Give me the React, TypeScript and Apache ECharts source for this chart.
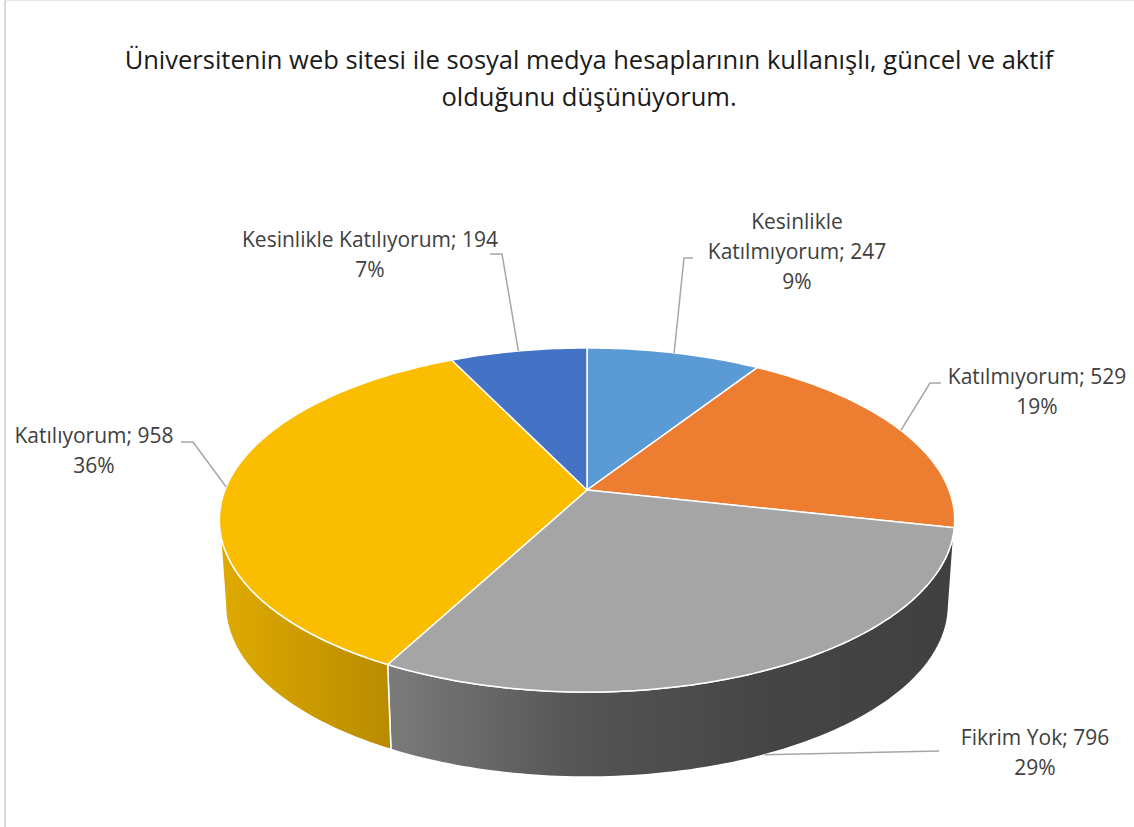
import React, { useEffect, useRef } from "react";
import * as echarts from "echarts";

// ---- data ----
const categories = [
  "Kesinlikle Katılmıyorum",
  "Katılmıyorum",
  "Fikrim Yok",
  "Katılıyorum",
  "Kesinlikle Katılıyorum",
];
const values = [247, 529, 796, 958, 194];
const percentLabels = ["9%", "19%", "29%", "36%", "7%"];
const titleText =
  "Üniversitenin web sitesi ile sosyal medya hesaplarının kullanışlı, güncel ve aktif\nolduğunu düşünüyorum.";

// ---- styles / layout ----
const topColors = ["#5B9BD5", "#ED7D31", "#A5A5A5", "#FABD00", "#4472C4"];
const sideStops: string[][] = [
  ["#4a80b3", "#3d6c98"],
  ["#c8682a", "#b55e25"],
  ["#7b7b7b", "#555555", "#454545", "#404040"],
  ["#dfaa00", "#b98b00"],
  ["#3a62a8", "#2f5290"],
];
const CX = 587;
const CY = 490;
const RX = 362;
const RY = 166.8;
const P = 0.1744;
const DEPTH = 85;
const RXB = 356;
const RYB = 166.8;

const labelLayout = [
  { x: 797, y: 251, align: "center", wrap: true, onSide: false, pts: [[684, 258], [693, 258]] },
  { x: 1037, y: 391, align: "center", wrap: false, onSide: false, pts: [[930, 383], [941, 383]] },
  { x: 1035, y: 752, align: "center", wrap: false, onSide: true, pts: [[939, 751]] },
  { x: 94, y: 450, align: "center", wrap: false, onSide: false, pts: [[193, 442], [181, 442]] },
  { x: 370, y: 254, align: "center", wrap: false, onSide: false, pts: [[502, 254], [490, 254]] },
];

const FONT = "'Open Sans', 'Noto Sans', sans-serif";

function projTop(t: number): number[] {
  const s = Math.sin(t);
  const c = Math.cos(t);
  const d = 1 + P * c;
  return [CX + (RX * s) / d, CY - (RY * c) / d];
}
function projBot(t: number): number[] {
  const s = Math.sin(t);
  const c = Math.cos(t);
  const d = 1 + P * c;
  return [CX + (RXB * s) / d, CY + DEPTH - (RYB * c) / d];
}

export default function App() {
  const ref = useRef<HTMLDivElement>(null);
  useEffect(() => {
    if (!ref.current) return;
    const chart = echarts.init(ref.current, undefined, { renderer: "svg" });
    const total = values.reduce((a, b) => a + b, 0);
    const starts: number[] = [];
    let acc = 0;
    values.forEach((v) => {
      starts.push(acc);
      acc += v;
    });
    const visA = Math.acos(-P);
    const visB = 2 * Math.PI - visA;

    const renderItem = (params: any, api: any) => {
      const i = params.dataIndex;
      const v = api.value(1);
      const t1 = (starts[i] / total) * 2 * Math.PI;
      const t2 = ((starts[i] + v) / total) * 2 * Math.PI;
      const children: any[] = [];
      const a = Math.max(t1, visA);
      const b = Math.min(t2, visB);
      if (b > a) {
        const n = Math.max(2, Math.ceil(((b - a) * 180) / Math.PI));
        const top: number[][] = [];
        const bot: number[][] = [];
        for (let k = 0; k <= n; k++) {
          const t = a + ((b - a) * k) / n;
          top.push(projTop(t));
          bot.push(projBot(t));
        }
        const pts = top.concat(bot.reverse());
        const stops = sideStops[i].map((c, j, arr) => ({ offset: j / (arr.length - 1), color: c }));
        children.push({
          type: "polygon",
          z2: 1,
          shape: { points: pts },
          style: {
            fill: new echarts.graphic.LinearGradient(0, 0, 1, 0, stops),
            stroke: "#ffffff",
            lineWidth: 1.5,
            lineJoin: "round",
          },
        });
      }
      const n2 = Math.max(2, Math.ceil(((t2 - t1) * 180) / Math.PI));
      const tp: number[][] = [[CX, CY]];
      for (let k = 0; k <= n2; k++) {
        tp.push(projTop(t1 + ((t2 - t1) * k) / n2));
      }
      children.push({
        type: "polygon",
        z2: 2,
        shape: { points: tp },
        style: { fill: topColors[i], stroke: "#ffffff", lineWidth: 1.5, lineJoin: "round" },
      });
      const lay = labelLayout[i];
      const mid = (t1 + t2) / 2;
      const start = lay.onSide ? projBot(mid) : projTop(mid);
      children.push({
        type: "polyline",
        z2: 3,
        shape: { points: [start, ...lay.pts] },
        style: { stroke: "#a6a6a6", lineWidth: 1.5, fill: null },
      });
      const name = categories[i];
      const nameText = lay.wrap ? name.replace(" ", "\n") : name;
      children.push({
        type: "text",
        z2: 4,
        style: {
          text: nameText + "; " + v + "\n" + percentLabels[i],
          x: lay.x,
          y: lay.y,
          align: lay.align,
          verticalAlign: "middle",
          fill: "#404040",
          fontSize: 21,
          fontFamily: FONT,
          lineHeight: 30,
        },
      });
      return { type: "group", children };
    };

    chart.setOption({
      animation: false,
      backgroundColor: "#ffffff",
      graphic: [
        { type: "line", shape: { x1: 5, y1: 0, x2: 5, y2: 827 }, style: { stroke: "#d9d9d9", lineWidth: 2 } },
        { type: "line", shape: { x1: 5, y1: 0.5, x2: 1134, y2: 0.5 }, style: { stroke: "#e6e6e6", lineWidth: 1 } },
        {
          type: "text",
          x: 589,
          y: 77,
          style: {
            text: titleText,
            align: "center",
            verticalAlign: "middle",
            fontFamily: FONT,
            fontSize: 25.5,
            fill: "#1a1a1a",
            lineHeight: 37,
          },
        },
      ],
      series: [
        {
          type: "custom",
          coordinateSystem: "none",
          renderItem,
          data: categories.map((c, i) => ({ name: c, value: [i, values[i]] })),
        },
      ],
    });
    return () => chart.dispose();
  }, []);
  return (
    <div
      ref={ref}
      style={{ position: "fixed", left: 0, top: 0, width: 1134, height: 827 }}
    />
  );
}
